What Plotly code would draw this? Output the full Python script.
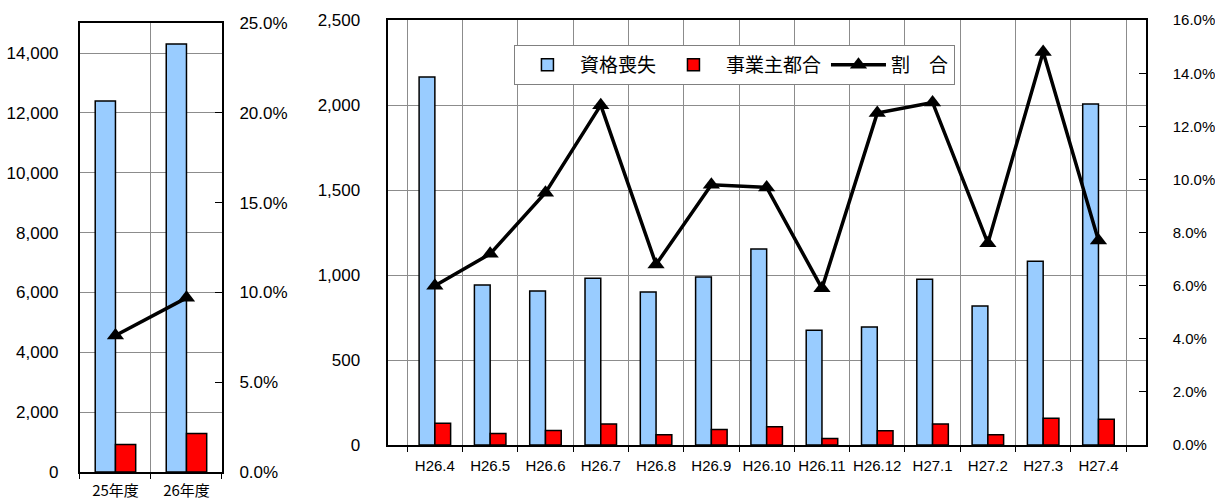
import plotly.graph_objects as go

# Left chart (annual)
years = ["25年度", "26年度"]
year_loss = [12400, 14300]
year_employer = [920, 1290]
year_ratio = [7.6, 9.7]

# Right chart (monthly)
months = ["H26.4", "H26.5", "H26.6", "H26.7", "H26.8", "H26.9", "H26.10",
          "H26.11", "H26.12", "H27.1", "H27.2", "H27.3", "H27.4"]
month_loss = [2165, 941, 906, 982, 900, 988, 1153, 676, 694, 976, 818, 1082, 2006]
month_employer = [128, 68, 85, 124, 61, 92, 108, 38, 84, 124, 61, 158, 152]
month_ratio = [6.0, 7.2, 9.5, 12.8, 6.8, 9.8, 9.7, 5.9, 12.5, 12.9, 7.6, 14.8, 7.7]

BLUE = "#99CCFF"
RED = "#FF0000"
FONT = "Liberation Sans, Noto Sans CJK JP, sans-serif"
NARROW = "Liberation Sans Narrow, Liberation Sans, sans-serif"

fig = go.Figure()

bar_line = dict(color="black", width=1.5)
tri = dict(symbol="triangle-up", size=15, color="black")

# Left chart traces
fig.add_trace(go.Bar(x=years, y=year_loss, name="資格喪失", marker=dict(color=BLUE, line=bar_line),
                     xaxis="x", yaxis="y", showlegend=False))
fig.add_trace(go.Bar(x=years, y=year_employer, name="事業主都合", marker=dict(color=RED, line=bar_line),
                     xaxis="x", yaxis="y", showlegend=False))
fig.add_trace(go.Scatter(x=years, y=year_ratio, name="割　合", mode="lines+markers",
                         line=dict(color="black", width=3.5), marker=tri,
                         xaxis="x", yaxis="y2", showlegend=False))

# Right chart traces
fig.add_trace(go.Bar(x=months, y=month_loss, name="資格喪失", marker=dict(color=BLUE, line=bar_line),
                     xaxis="x2", yaxis="y3"))
fig.add_trace(go.Bar(x=months, y=month_employer, name="事業主都合", marker=dict(color=RED, line=bar_line),
                     xaxis="x2", yaxis="y3"))
fig.add_trace(go.Scatter(x=months, y=month_ratio, name="割　合", mode="lines+markers",
                         line=dict(color="black", width=3.5), marker=tri,
                         xaxis="x2", yaxis="y4"))

GRID = "#8c8c8c"
common_x = dict(type="category", showline=True, linecolor="black", linewidth=2, mirror=True,
                showgrid=True, gridcolor=GRID, gridwidth=1, tickson="boundaries",
                ticks="outside", ticklen=5, tickcolor="black", fixedrange=True,
                automargin=False, tickangle=0)

fig.update_layout(
    width=1215, height=504,
    margin=dict(l=0, r=0, t=0, b=0),
    paper_bgcolor="white", plot_bgcolor="white",
    font=dict(family=FONT, size=17, color="black"),
    barmode="group", bargap=0.43, bargroupgap=0,
    xaxis=dict(domain=[0.0658, 0.1827], anchor="y",
               tickfont=dict(family="Noto Sans CJK JP, sans-serif", size=15),
               ticklabelstandoff=4, **common_x),
    yaxis=dict(domain=[0.0635, 0.954], anchor="x", range=[0, 15000], dtick=2000, tickformat=",",
               showgrid=True, gridcolor=GRID, showline=True, linecolor="black", linewidth=2,
               ticks="", ticklabelstandoff=16, zeroline=False, automargin=False),
    yaxis2=dict(overlaying="y", side="right", anchor="x", range=[0, 25], dtick=5, tickformat=".1f",
                ticksuffix="%", showgrid=False, showline=True, linecolor="black", linewidth=2,
                ticks="inside", ticklen=7, tickcolor="black", ticklabelstandoff=12, zeroline=False,
                automargin=False),
    xaxis2=dict(domain=[0.319, 0.943], anchor="y3", tickfont=dict(family=NARROW, size=15),
                ticklabelstandoff=6, **common_x),
    yaxis3=dict(domain=[0.117, 0.96], anchor="x2", range=[0, 2500], dtick=500, tickformat=",",
                showgrid=True, gridcolor=GRID, showline=True, linecolor="black", linewidth=2,
                ticks="", ticklabelstandoff=22, zeroline=False, automargin=False),
    yaxis4=dict(overlaying="y3", side="right", anchor="x2", range=[0, 16], dtick=2, tickformat=".1f",
                ticksuffix="%", showgrid=False, showline=True, linecolor="black", linewidth=2,
                ticks="inside", ticklen=7, tickcolor="black", ticklabelstandoff=22, zeroline=False,
                automargin=False, tickfont=dict(family=NARROW, size=15)),
    legend=dict(orientation="h", x=0.423, y=0.911, xanchor="left", yanchor="top",
                bgcolor="white", bordercolor="#808080", borderwidth=1, itemwidth=55,
                entrywidth=0, font=dict(family="Noto Sans CJK JP, sans-serif", size=19),
                traceorder="normal"),
)

fig.write_html("out.html", config={"displayModeBar": False},
               post_script="document.body.style.margin='0';document.body.style.overflow='hidden';")
